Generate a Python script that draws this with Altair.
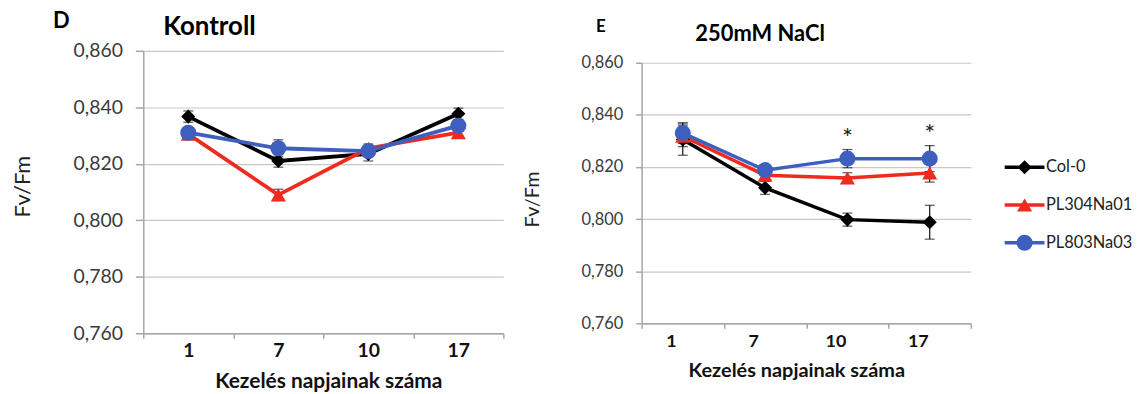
import altair as alt
import pandas as pd

days = ["1", "7", "10", "17"]
series = ["Col-0", "PL304Na01", "PL803Na03"]
colors = ["#000000", "#ee2b1f", "#3e5fbe"]
shapes = ["diamond", "triangle-up", "circle"]
marker_sizes = [200, 260, 280]

# Panel D: Kontroll
ctrl_col0 = [0.8367, 0.821, 0.8235, 0.8377]
ctrl_pl304 = [0.8305, 0.809, 0.8255, 0.831]
ctrl_pl803 = [0.831, 0.8255, 0.8245, 0.8335]
ctrl_col0_se = [0.002, 0.0022, 0.0025, 0.002]
ctrl_pl304_se = [0.0018, 0.002, 0.0015, 0.0015]
ctrl_pl803_se = [0.0015, 0.003, 0.002, 0.002]

# Panel E: 250mM NaCl
salt_col0 = [0.8305, 0.812, 0.7998, 0.7988]
salt_pl304 = [0.8318, 0.8168, 0.8158, 0.8177]
salt_pl803 = [0.833, 0.8188, 0.8232, 0.8232]
salt_col0_se = [0.006, 0.0025, 0.0025, 0.0065]
salt_pl304_se = [0.004, 0.002, 0.002, 0.0035]
salt_pl803_se = [0.004, 0.002, 0.0035, 0.005]
salt_sig = ["", "", "*", "*"]

y_ticks = [0.76, 0.78, 0.80, 0.82, 0.84, 0.86]
FONT = "Lato"
GRAY = "#a6a6a6"


def frame(means, errs):
    rows = []
    for s, m, e in zip(series, means, errs):
        for i, d in enumerate(days):
            rows.append({"series": s, "day": d, "idx": i, "mean": m[i],
                         "lo": m[i] - e[i], "hi": m[i] + e[i]})
    return pd.DataFrame(rows)


def header(w, h, c):
    letter = alt.Chart(pd.DataFrame({"t": [c["letter"]]})).mark_text(
        font=FONT, fontSize=c["lfs"], fontWeight="bold", color="#000",
        align="center", baseline="middle").encode(
        x=alt.value(c["lx"]), y=alt.value(c["ly"]), text="t:N")
    title = alt.Chart(pd.DataFrame({"t": [c["title"]]})).mark_text(
        font=FONT, fontSize=c["tfs"], fontWeight="bold", color="#000",
        align="left", baseline="middle").encode(
        x=alt.value(c["tx"]), y=alt.value(c["ty"]), text="t:N")
    return alt.layer(letter, title).properties(width=w, height=h)


def panel(df, w, h, c, sig_df=None):
    xscale = alt.Scale(domain=days, paddingInner=0, paddingOuter=0)
    yscale = alt.Scale(domain=[0.76, 0.86], nice=False, zero=False)
    xaxis = alt.Axis(
        title="Kezelés napjainak száma", titleFont=FONT, titleFontSize=c["xt"],
        titleFontWeight="bold", titleColor="#111", titleX=w / 2 + c["txdx"],
        titleY=c["txy"], titleBaseline="top", titleAlign="center",
        labelAngle=0, labelFont=FONT, labelFontSize=c["xl"], labelFontWeight="bold",
        labelColor="#111", labelPadding=c["xlp"], labelOffset=c["xlo"],
        tickBand="extent", tickSize=5, tickColor=GRAY, tickWidth=1.5,
        domainColor=GRAY, domainWidth=1.5, grid=False)
    yaxis = alt.Axis(
        values=y_ticks, labelExpr="replace(format(datum.value, '.3f'), '.', ',')",
        labelFont=FONT, labelFontSize=c["yl"], labelColor="#3a3a3a",
        labelPadding=13, tickSize=c["yts"], tickColor=GRAY, tickWidth=1.5,
        domainColor=GRAY, domainWidth=1.5, grid=True, gridColor="#c8c8c8",
        gridWidth=1.2, title="Fv/Fm", titleFont=FONT, titleFontSize=c["yt"],
        titleFontWeight="normal", titleColor="#222", titleX=c["tyx"],
        titleY=c["tyy"], titleBaseline="middle", titleAngle=270, titleAlign="center")
    x = alt.X("day:N", sort=days, scale=xscale, axis=xaxis)

    def y(field):
        return alt.Y(field, type="quantitative", scale=yscale, axis=yaxis)

    color = alt.Color("series:N", scale=alt.Scale(domain=series, range=colors), legend=None)
    base = alt.Chart(df)
    lines = base.mark_line(strokeWidth=c["lw"]).encode(
        x=x, y=y("mean"), color=color, order="idx:Q")
    bars = base.mark_rule(color="#111", strokeWidth=1.2).encode(
        x=x, y=y("lo"), y2="hi:Q")
    cap_lo = base.mark_tick(color="#111", thickness=1.2, size=10).encode(x=x, y=y("lo"))
    cap_hi = base.mark_tick(color="#111", thickness=1.2, size=10).encode(x=x, y=y("hi"))
    points = base.mark_point(filled=True, opacity=1, strokeWidth=0).encode(
        x=x, y=y("mean"), color=color,
        shape=alt.Shape("series:N", scale=alt.Scale(domain=series, range=shapes), legend=None),
        size=alt.Size("series:N", scale=alt.Scale(domain=series, range=marker_sizes), legend=None))
    one = pd.DataFrame({"k": [0]})
    spacer = alt.Chart(one).mark_rule(color="white", strokeWidth=1).encode(
        x=alt.value(c["spx"]), x2=alt.value(c["spx"] + 1),
        y=alt.value(c["spy"]), y2=alt.value(c["spy"]))
    layers = [lines, bars, cap_lo, cap_hi, points, spacer]
    if sig_df is not None:
        sig = alt.Chart(sig_df).mark_text(
            font=FONT, fontSize=26, color="#222", baseline="middle", dy=-11).encode(
            x=x, y=y("hi"), text="sig:N")
        layers.append(sig)
    return alt.layer(*layers).properties(width=w, height=h)


ctrl_df = frame([ctrl_col0, ctrl_pl304, ctrl_pl803], [ctrl_col0_se, ctrl_pl304_se, ctrl_pl803_se])
salt_df = frame([salt_col0, salt_pl304, salt_pl803], [salt_col0_se, salt_pl304_se, salt_pl803_se])
sig_df = pd.DataFrame({"day": days, "hi": [m + e for m, e in zip(salt_pl803, salt_pl803_se)],
                       "sig": salt_sig})

left_panel = panel(ctrl_df, 362, 284, dict(
    xt=21, txdx=5, txy=38, xl=19.5, xlp=3, xlo=0, yl=19.5, yts=8, yt=22, tyx=-121, tyy=136,
    lw=3.8, spx=-135, spy=-10))
left_head = header(362, 31, dict(letter="D", lfs=22, lx=-82.5, ly=12.5,
                                 title="Kontroll", tfs=26, tx=20, ty=18))

right_panel = panel(salt_df, 331, 262, dict(
    xt=20, txdx=-10, txy=37, xl=18, xlp=4, xlo=-12, yl=16.5, yts=6, yt=20, tyx=-110, tyy=137,
    lw=3.5, spx=-137.5, spy=-10), sig_df)
right_head = header(331, 43, dict(letter="E", lfs=17, lx=-41, ly=18,
                                  title="250mM NaCl", tfs=22, tx=54, ty=25))

leg_df = pd.DataFrame({"series": series})
leg_y = alt.Y("series:N", sort=series,
              scale=alt.Scale(type="point", domain=series, range=[159, 235], padding=0),
              axis=None)
leg_color = alt.Color("series:N", scale=alt.Scale(domain=series, range=colors), legend=None)
leg_base = alt.Chart(leg_df)
leg_lines = leg_base.mark_rule(strokeWidth=3.5).encode(
    x=alt.value(33), x2=alt.value(73), y=leg_y, color=leg_color)
leg_pts = leg_base.mark_point(filled=True, opacity=1, strokeWidth=0).encode(
    x=alt.value(53), y=leg_y, color=leg_color,
    shape=alt.Shape("series:N", scale=alt.Scale(domain=series, range=shapes), legend=None),
    size=alt.Size("series:N", scale=alt.Scale(domain=series, range=marker_sizes), legend=None))
leg_txt = leg_base.mark_text(font=FONT, fontSize=16.5, color="#222", align="left",
                             baseline="middle").encode(x=alt.value(74.5), y=leg_y, text="series:N")
legend = alt.layer(leg_lines, leg_pts, leg_txt).properties(width=150, height=260)

left = alt.vconcat(left_head, left_panel, spacing=0)
right = alt.vconcat(right_head, right_panel, spacing=0)

chart = alt.hconcat(left, right, legend, spacing=0).resolve_scale(
    color="independent", shape="independent", size="independent"
).properties(padding=0, background="white").configure_view(strokeWidth=0)

chart.save("out.html", embed_options={"renderer": "svg", "actions": False})
